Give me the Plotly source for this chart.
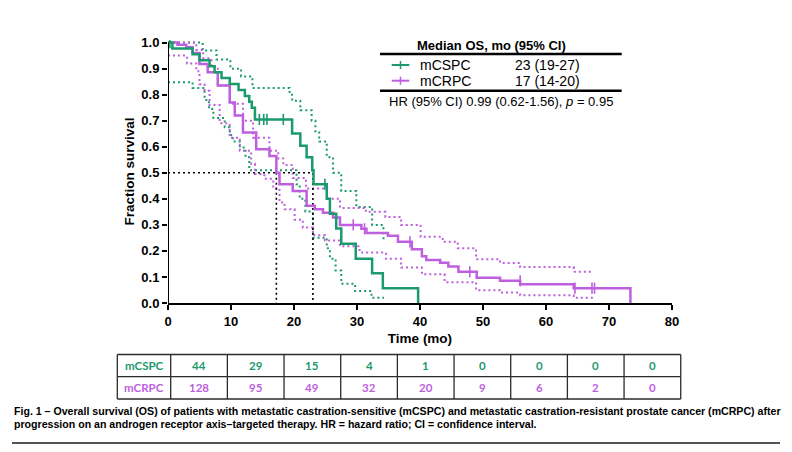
import plotly.graph_objects as go

# ---------------- data ----------------
cspc_t = [0, 0.7, 3.9, 5.0, 6.6, 7.4, 8.5, 9.8, 11.2, 12.2, 12.9, 13.3, 13.8, 19.7, 21.0, 22.0, 22.9, 23.1, 25.2, 25.7, 26.7, 27.5, 29.8, 32.4, 34.1, 39.7]
cspc_s = [1.0, 0.977, 0.955, 0.932, 0.909, 0.886, 0.864, 0.841, 0.818, 0.795, 0.773, 0.75, 0.705, 0.651, 0.604, 0.56, 0.51, 0.456, 0.40, 0.343, 0.286, 0.228, 0.17, 0.114, 0.057, 0.0]
cspc_up_t = [0, 5.5, 7.7, 9.9, 11.6, 13.4, 19.3, 19.7, 21.0, 22.8, 23.4, 24.0, 25.2, 26.2, 27.5, 29.9, 32.4, 34.2, 34.5]
cspc_up_s = [1.0, 0.97, 0.935, 0.90, 0.87, 0.826, 0.80, 0.777, 0.74, 0.70, 0.66, 0.62, 0.56, 0.50, 0.43, 0.369, 0.30, 0.245, 0.245]
cspc_lo_t = [0, 3.9, 5.8, 6.5, 7.2, 9.0, 9.8, 10.3, 11.4, 12.3, 12.9, 20.4, 20.9, 21.8, 23.0, 25.2, 25.7, 26.6, 27.5, 29.7, 32.3, 34.3]
cspc_lo_s = [0.848, 0.826, 0.78, 0.745, 0.71, 0.675, 0.645, 0.62, 0.597, 0.56, 0.51, 0.456, 0.40, 0.351, 0.251, 0.21, 0.17, 0.125, 0.074, 0.046, 0.02, 0.02]
cspc_cens_t = [0.3, 14.5, 15.2, 15.7, 18.3, 24.9]
cspc_cens_s = [1.0, 0.705, 0.705, 0.705, 0.705, 0.456]

crpc_t = [0, 1.5, 2.9, 3.9, 5.0, 6.3, 7.9, 9.8, 10.6, 11.9, 14.0, 16.1, 17.2, 17.7, 19.8, 22.0, 23.3, 24.6, 26.2, 27.3, 30.7, 31.5, 34.9, 36.5, 38.7, 40.3, 41.0, 43.2, 44.5, 46.1, 49.0, 52.7, 55.9, 64.4, 73.4]
crpc_s = [1.0, 0.992, 0.982, 0.96, 0.918, 0.886, 0.835, 0.77, 0.72, 0.655, 0.59, 0.565, 0.50, 0.456, 0.43, 0.373, 0.36, 0.347, 0.328, 0.30, 0.285, 0.269, 0.258, 0.235, 0.206, 0.18, 0.165, 0.155, 0.14, 0.12, 0.097, 0.085, 0.072, 0.057, 0.0]
crpc_up_t = [0, 4.5, 5.6, 6.9, 7.9, 9.8, 11.9, 13.5, 16.1, 17.5, 18.3, 19.8, 21.9, 25.2, 27.3, 31.4, 34.5, 37.0, 40.1, 43.6, 46.0, 48.9, 52.7, 55.9, 64.4, 67.5]
crpc_up_s = [1.0, 0.972, 0.94, 0.905, 0.835, 0.765, 0.70, 0.635, 0.585, 0.555, 0.53, 0.48, 0.44, 0.40, 0.365, 0.35, 0.33, 0.30, 0.254, 0.235, 0.21, 0.168, 0.154, 0.138, 0.12, 0.12]
crpc_lo_t = [0, 3.0, 4.5, 5.0, 5.8, 6.6, 8.2, 9.8, 11.4, 13.2, 13.8, 15.3, 16.7, 17.7, 18.5, 20.1, 21.4, 23.0, 24.9, 27.3, 30.4, 34.6, 37.0, 40.3, 43.9, 48.9, 52.7, 55.9, 64.4, 67.5]
crpc_lo_s = [0.95, 0.92, 0.89, 0.84, 0.815, 0.76, 0.69, 0.635, 0.585, 0.535, 0.495, 0.477, 0.44, 0.386, 0.36, 0.32, 0.29, 0.26, 0.24, 0.218, 0.194, 0.17, 0.136, 0.11, 0.08, 0.049, 0.04, 0.03, 0.02, 0.02]
crpc_cens_t = [29.4, 31.2, 38.4, 47.9, 55.9, 64.6, 67.3, 67.7]
crpc_cens_s = [0.30, 0.285, 0.235, 0.12, 0.085, 0.057, 0.057, 0.057]

median_crpc = 17.2
median_cspc = 23.0

groups = ["mCSPC", "mCRPC"]
median_text = ["23 (19-27)", "17 (14-20)"]
hr_text = "HR (95% CI) 0.99 (0.62-1.56), <i>p</i> = 0.95"
at_risk_cspc = [44, 29, 15, 4, 1, 0, 0, 0, 0]
at_risk_crpc = [128, 95, 49, 32, 20, 9, 6, 2, 0]
x_ticks = [0, 10, 20, 30, 40, 50, 60, 70, 80]
y_ticks = [0.0, 0.1, 0.2, 0.3, 0.4, 0.5, 0.6, 0.7, 0.8, 0.9, 1.0]
caption1 = ("Fig. 1 \u2013 Overall survival (OS) of patients with metastatic castration-sensitive (mCSPC) "
            "and metastatic castration-resistant prostate cancer (mCRPC) after")
caption2 = ("progression on an androgen receptor axis\u2013targeted therapy. HR = hazard ratio; "
            "CI = confidence interval.")

# ---------------- style ----------------
GREEN = "#1b9a6c"
PURPLE = "#bd5fdf"
ARIAL = "Liberation Sans, Arial, sans-serif"
W, H = 792, 452
ML, MR, MT, MB = 168, 120, 40, 149
PW = W - ML - MR
PH = H - MT - MB


def px(x):
    return (x - ML) / PW


def py(y):
    return (H - MB - y) / PH


fig = go.Figure()

DOT = "2px,3px"
for t, s, c in [(cspc_up_t, cspc_up_s, GREEN), (cspc_lo_t, cspc_lo_s, GREEN),
                (crpc_up_t, crpc_up_s, PURPLE), (crpc_lo_t, crpc_lo_s, PURPLE)]:
    fig.add_trace(go.Scatter(x=t, y=s, mode="lines",
                             line=dict(shape="hv", color=c, width=2, dash=DOT),
                             hoverinfo="skip", showlegend=False))

# median reference lines
fig.add_trace(go.Scatter(x=[0, median_cspc, median_cspc], y=[0.5, 0.5, 0], mode="lines",
                         line=dict(color="black", width=1.6, dash=DOT), showlegend=False))
fig.add_trace(go.Scatter(x=[median_crpc, median_crpc], y=[0.5, 0], mode="lines",
                         line=dict(color="black", width=1.6, dash=DOT), showlegend=False))

fig.add_trace(go.Scatter(x=crpc_t, y=crpc_s, mode="lines",
                         line=dict(shape="hv", color=PURPLE, width=2.5), showlegend=False))
fig.add_trace(go.Scatter(x=cspc_t, y=cspc_s, mode="lines",
                         line=dict(shape="hv", color=GREEN, width=2.5), showlegend=False))
fig.add_trace(go.Scatter(x=crpc_cens_t, y=crpc_cens_s, mode="markers",
                         marker=dict(symbol="line-ns-open", size=8, color=PURPLE,
                                     line=dict(color=PURPLE, width=1.6)),
                         showlegend=False))
fig.add_trace(go.Scatter(x=cspc_cens_t, y=cspc_cens_s, mode="markers",
                         marker=dict(symbol="line-ns-open", size=8, color=GREEN,
                                     line=dict(color=GREEN, width=1.6)),
                         showlegend=False))

shapes = []
annotations = []

# y axis line (stops at 1.0)
shapes.append(dict(type="line", xref="x", yref="y", x0=0, x1=0, y0=0, y1=1.0,
                   line=dict(color="black", width=2)))

# ---- legend block ----
for yy in (54, 90.7):
    shapes.append(dict(type="line", xref="paper", yref="paper", x0=px(380), x1=px(621.7),
                       y0=py(yy), y1=py(yy), line=dict(color="black", width=2.5)))
annotations.append(dict(xref="paper", yref="paper", x=px(491), y=py(45), text="<b>Median OS, mo (95% CI)</b>",
                        showarrow=False, xanchor="center", yanchor="middle",
                        font=dict(family=ARIAL, size=13, color="black")))
for i, (g, c) in enumerate(zip(groups, [GREEN, PURPLE])):
    yy = 65 + i * 15.7
    shapes.append(dict(type="line", xref="paper", yref="paper", x0=px(391.7), x1=px(409.3),
                       y0=py(yy), y1=py(yy), line=dict(color=c, width=2)))
    shapes.append(dict(type="line", xref="paper", yref="paper", x0=px(400.5), x1=px(400.5),
                       y0=py(yy - 4), y1=py(yy + 4), line=dict(color=c, width=1.5)))
    annotations.append(dict(xref="paper", yref="paper", x=px(418), y=py(yy), text=g,
                            showarrow=False, xanchor="left", yanchor="middle",
                            font=dict(family=ARIAL, size=14, color="black")))
    annotations.append(dict(xref="paper", yref="paper", x=px(547), y=py(yy), text=median_text[i],
                            showarrow=False, xanchor="center", yanchor="middle",
                            font=dict(family=ARIAL, size=14, color="black")))
annotations.append(dict(xref="paper", yref="paper", x=px(500.8), y=py(101.7), text=hr_text,
                        showarrow=False, xanchor="center", yanchor="middle",
                        font=dict(family=ARIAL, size=13, color="black")))

# ---- at-risk table ----
col_edges = [117.3, 170.7] + [170.7 + 56.67 * (k + 1) for k in range(len(at_risk_cspc))]
row_edges = [354.5, 376.7, 399]
TB = "#2b2b2b"
for yy in row_edges:
    shapes.append(dict(type="line", xref="paper", yref="paper", x0=px(col_edges[0]), x1=px(col_edges[-1]),
                       y0=py(yy), y1=py(yy), line=dict(color=TB, width=1.3)))
for xx in col_edges:
    shapes.append(dict(type="line", xref="paper", yref="paper", x0=px(xx), x1=px(xx),
                       y0=py(row_edges[0]), y1=py(row_edges[-1]), line=dict(color=TB, width=1.3)))
TFONT = "Lato, Open Sans, sans-serif"
for r, (g, vals, c) in enumerate(zip(groups, [at_risk_cspc, at_risk_crpc], [GREEN, PURPLE])):
    yc = (row_edges[r] + row_edges[r + 1]) / 2
    annotations.append(dict(xref="paper", yref="paper", x=px((col_edges[0] + col_edges[1]) / 2), y=py(yc),
                            text=f"<b>{g}</b>", showarrow=False, xanchor="center", yanchor="middle",
                            font=dict(family=TFONT, size=11.5, color=c)))
    for k, v in enumerate(vals):
        annotations.append(dict(xref="paper", yref="paper", x=px((col_edges[k + 1] + col_edges[k + 2]) / 2),
                                y=py(yc), text=f"<b>{v}</b>", showarrow=False, xanchor="center",
                                yanchor="middle", font=dict(family=TFONT, size=11.5, color=c)))

# ---- caption ----
CFONT = "Liberation Sans, sans-serif"
for text, yy in [(caption1, 411), (caption2, 424)]:
    annotations.append(dict(xref="paper", yref="paper", x=px(12), y=py(yy), text=f"<b>{text}</b>",
                            showarrow=False, xanchor="left", yanchor="middle",
                            font=dict(family=CFONT, size=10.6, color="black")))
shapes.append(dict(type="line", xref="paper", yref="paper", x0=px(12), x1=px(780),
                   y0=py(443), y1=py(443), line=dict(color="#555555", width=2)))

fig.update_layout(
    width=W, height=H,
    margin=dict(l=ML, r=MR, t=MT, b=MB, pad=0),
    plot_bgcolor="white", paper_bgcolor="white",
    shapes=shapes, annotations=annotations,
    showlegend=False,
    xaxis=dict(range=[0, 80], tickvals=x_ticks, ticktext=[f"<b>{v}</b>" for v in x_ticks],
               ticks="outside", ticklen=5, tickwidth=2, tickcolor="black",
               showline=True, linecolor="black", linewidth=2, showgrid=False, zeroline=False,
               tickfont=dict(family=ARIAL, size=13, color="black"),
               title=dict(text="<b>Time (mo)</b>", font=dict(family=ARIAL, size=13.5, color="black"), standoff=6)),
    yaxis=dict(range=[0, 1.01], tickvals=y_ticks, ticktext=[f"<b>{v:.1f}</b>" for v in y_ticks],
               ticks="outside", ticklen=5, tickwidth=2, tickcolor="black",
               showline=False, showgrid=False, zeroline=False,
               tickfont=dict(family=ARIAL, size=13, color="black"),
               title=dict(text="<b>Fraction survival</b>", font=dict(family=ARIAL, size=13.5, color="black"), standoff=3)),
)

fig.write_html("out.html")
